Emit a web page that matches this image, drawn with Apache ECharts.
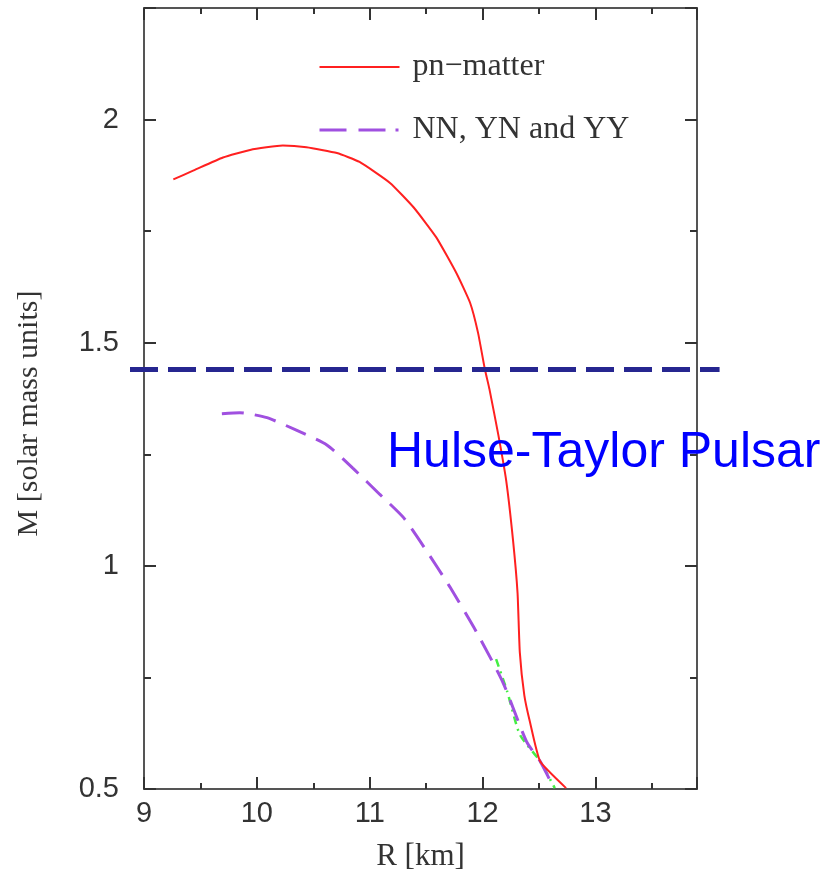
<!DOCTYPE html>
<html>
<head>
<meta charset="utf-8">
<script src="https://cdn.jsdelivr.net/npm/echarts@6/dist/echarts.min.js"></script>
<style>html,body{margin:0;padding:0;background:#fff;}#c{width:830px;height:877px;}</style>
</head>
<body>
<div id="c"></div>
<script>
// ---- data ----
const pnR = [9.26, 9.44, 9.70, 9.94, 10.23, 10.44, 10.71, 10.91, 11.18, 11.39, 11.59, 11.77, 11.89, 11.96, 12.02, 12.06, 12.14, 12.21, 12.27, 12.31, 12.33, 12.37, 12.42, 12.51, 12.74];
const pnM = [1.866, 1.886, 1.915, 1.932, 1.942, 1.938, 1.925, 1.905, 1.858, 1.803, 1.736, 1.655, 1.589, 1.522, 1.441, 1.397, 1.293, 1.190, 1.057, 0.939, 0.806, 0.710, 0.650, 0.562, 0.502];
const yyR = [9.69, 9.85, 10.09, 10.35, 10.62, 10.85, 11.09, 11.30, 11.50, 11.71, 11.95, 12.18, 12.39, 12.51, 12.63];
const yyM = [1.341, 1.343, 1.332, 1.304, 1.271, 1.219, 1.160, 1.108, 1.035, 0.953, 0.850, 0.739, 0.606, 0.562, 0.503];
const grR = [12.12, 12.22, 12.33, 12.51, 12.64];
const grM = [0.791, 0.717, 0.622, 0.562, 0.502];
const pulsarR = [8.876, 14.10];
const pulsarM = [1.44, 1.44];
const seriesNames = ['pn\u2212matter', 'NN, YN and YY'];
const xTicks = [9, 10, 11, 12, 13];
const yTicks = [0.5, 1, 1.5, 2];
const pulsarLabel = 'Hulse-Taylor Pulsar';
const xTitle = 'R [km]';
const yTitle = 'M [solar mass units]';

const zip = (a, b) => a.map((v, i) => [v, b[i]]);
const axisCol = '#555';
const serif = '"Liberation Serif", "DejaVu Serif", serif';
const sans = '"Liberation Sans", Arial, sans-serif';

const chart = echarts.init(document.getElementById('c'), null, {renderer: 'canvas'});
const commonX = {
  type: 'value', min: 9, max: 13.9, interval: 1,
  axisLine: {show: true, onZero: false, lineStyle: {color: axisCol, width: 2}},
  axisTick: {show: true, inside: true, length: 12, lineStyle: {color: '#333', width: 2}},
  minorTick: {show: true, splitNumber: 2, length: 6, lineStyle: {color: '#333', width: 2}},
  splitLine: {show: false}, minorSplitLine: {show: false}
};
const commonY = {
  type: 'value', min: 0.5, max: 2.25, interval: 0.5,
  axisLine: {show: true, onZero: false, lineStyle: {color: axisCol, width: 2}},
  axisTick: {show: true, inside: true, length: 12, lineStyle: {color: '#333', width: 2}},
  minorTick: {show: true, splitNumber: 2, length: 7, lineStyle: {color: '#333', width: 2}},
  splitLine: {show: false}, minorSplitLine: {show: false}
};
const option = {
  backgroundColor: '#fff',
  animation: false,
  grid: {left: 144, right: 133, top: 8, bottom: 79, containLabel: false},
  xAxis: [
    Object.assign({}, commonX, {
      position: 'bottom',
      name: xTitle, nameLocation: 'middle', nameGap: 52,
      nameTextStyle: {fontFamily: serif, fontSize: 31, color: '#333'},
      axisLabel: {show: true, margin: 10, fontFamily: sans, fontSize: 29, color: '#333',
        formatter: v => (xTicks.indexOf(v) >= 0 ? String(v) : '')}
    }),
    Object.assign({}, commonX, {position: 'top', axisLabel: {show: false}})
  ],
  yAxis: [
    Object.assign({}, commonY, {
      position: 'left',
      name: yTitle, nameLocation: 'middle', nameGap: 100, nameRotate: 90,
      nameTextStyle: {fontFamily: serif, fontSize: 30, color: '#333', padding: [0, 0, 0, -30]},
      axisLabel: {show: true, margin: 25, fontFamily: sans, fontSize: 29, color: '#333',
        formatter: v => (yTicks.indexOf(v) >= 0 ? String(v) : '')}
    }),
    Object.assign({}, commonY, {position: 'right', axisLabel: {show: false}})
  ],
  legend: {
    show: true, orient: 'vertical', left: 313, top: 46, itemWidth: 80, itemHeight: 14, itemGap: 31,
    itemStyle: {opacity: 0},
    textStyle: {fontFamily: serif, fontSize: 32, color: '#333', padding: [0, 0, 0, 8]},
    data: [
      {name: seriesNames[0], lineStyle: {color: '#ff2020', width: 2, type: 'solid'}},
      {name: seriesNames[1], lineStyle: {color: '#a050e0', width: 3, type: [27, 12, 27, 10, 3, 40]}}
    ]
  },
  series: [
    {
      name: seriesNames[0], type: 'line', data: zip(pnR, pnM), symbol: 'none', smooth: 0.15,
      lineStyle: {color: '#ff2020', width: 2}, itemStyle: {color: '#ff2020'}, z: 4
    },
    {
      name: seriesNames[1], type: 'line', data: zip(yyR, yyM), symbol: 'none', smooth: 0.2,
      lineStyle: {color: '#a050e0', width: 3, type: [22, 11]}, itemStyle: {color: '#a050e0'}, z: 3
    },
    {
      name: 'green', type: 'line', data: zip(grR, grM), symbol: 'none', smooth: 0.2,
      lineStyle: {color: '#44ee44', width: 2.5, type: [8, 5, 2, 5]}, z: 2
    }
  ]
};
chart.setOption(option);

// Hulse-Taylor mass line, extending past the frame; positioned through the chart's own scales
const p0 = chart.convertToPixel({xAxisIndex: 0, yAxisIndex: 0}, [pulsarR[0], pulsarM[0]]);
const p1 = chart.convertToPixel({xAxisIndex: 0, yAxisIndex: 0}, [pulsarR[1], pulsarM[1]]);
chart.setOption({
  graphic: [
    {
      type: 'text', left: 387, top: 453 - 25, z: 10,
      style: {text: pulsarLabel, fontFamily: sans, fontSize: 50, fill: '#0000ff'}
    },
    {
      type: 'line', z: 9,
      shape: {x1: p0[0], y1: p0[1], x2: p1[0], y2: p1[1]},
      style: {stroke: '#262690', lineWidth: 5, lineDash: [28, 10]}
    }
  ]
});
</script>
</body>
</html>
